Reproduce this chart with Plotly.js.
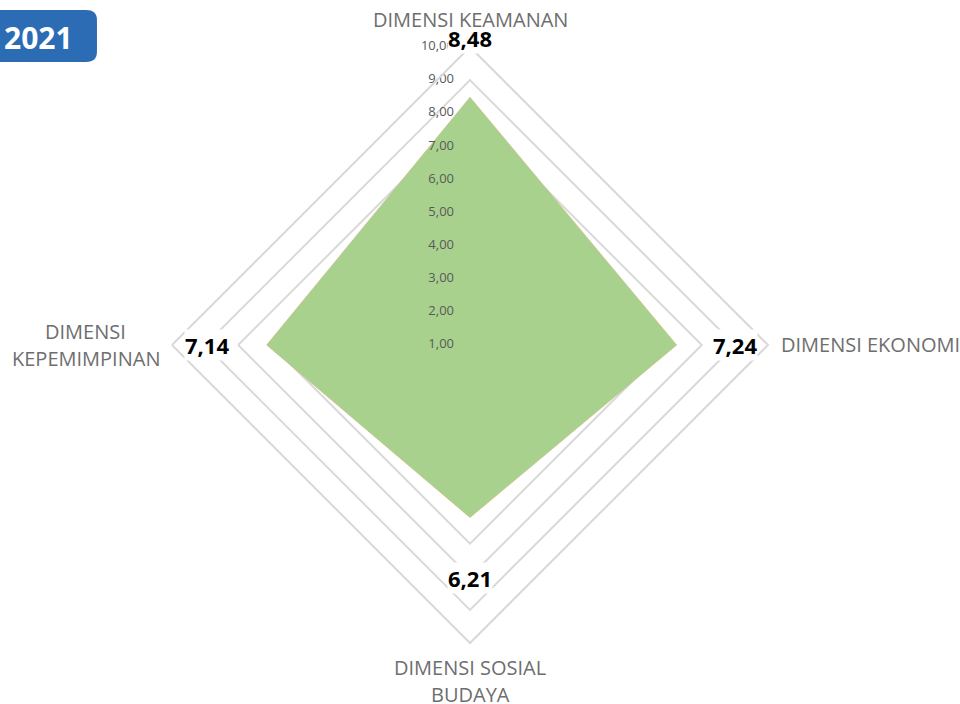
<!DOCTYPE html>
<html>
<head>
<meta charset="utf-8">
<script src="https://cdn.plot.ly/plotly-3.0.1.min.js"></script>
<style>
  html, body { margin: 0; padding: 0; background: #ffffff; }
  #chart { width: 960px; height: 704px; }
</style>
</head>
<body>
<div id="chart"></div>
<script>
// ---- data ----
const categories = ['DIMENSI KEAMANAN', 'DIMENSI EKONOMI', 'DIMENSI SOSIAL BUDAYA', 'DIMENSI KEPEMIMPINAN'];
const categoryLines = [['DIMENSI KEAMANAN'], ['DIMENSI EKONOMI'], ['DIMENSI SOSIAL', 'BUDAYA'], ['DIMENSI', 'KEPEMIMPINAN']];
const values = [8.48, 7.24, 6.21, 7.14];
const valueLabels = ['8,48', '7,24', '6,21', '7,14'];
const tickValues = [1, 2, 3, 4, 5, 6, 7, 8, 9, 10];
const tickLabels = ['1,00', '2,00', '3,00', '4,00', '5,00', '6,00', '7,00', '8,00', '9,00', '10,00'];
const yearLabel = '2021';

// ---- geometry / label placement (style) ----
const W = 960, H = 704;
const CX = 470, CY = 345, RPX = 298;          // polar centre and outer radius in px
const RMIN = 0.999, RMAX = 10;
const dirs = [[0, -1], [1, 0], [0, 1], [-1, 0]]; // screen direction of each category (clockwise from top)
const valueLabelRadius = [10.27, 9.0, 8.04, 8.95];
const categoryLabelRadius = [10.82, 10.33, 11.15, 12.6];
const categoryAnchor = ['center', 'left', 'center', 'center'];
const LINE_GAP = 27;

function toPaper(r, i) {
  const d = (r - RMIN) / (RMAX - RMIN) * RPX;
  return { x: (CX + dirs[i][0] * d) / W, y: 1 - (CY + dirs[i][1] * d) / H };
}

const area = {
  type: 'scatterpolar',
  r: values.concat([values[0]]),
  theta: categories.concat([categories[0]]),
  mode: 'lines',
  fill: 'toself',
  fillcolor: '#a9d18e',
  line: { color: '#c9c08a', width: 0.8 },
  hoverinfo: 'skip',
  showlegend: false
};

const ticks = {
  type: 'scatterpolar',
  r: tickValues,
  theta: tickValues.map(() => categories[0]),
  mode: 'markers+text',
  text: tickLabels,
  textposition: 'middle left',
  marker: { size: 24, opacity: 0 },
  textfont: { family: 'Open Sans, sans-serif', size: 13, color: '#595959' },
  cliponaxis: false,
  hoverinfo: 'skip',
  showlegend: false
};

const annotations = [];
// value labels (white box like the original data labels)
values.forEach((v, i) => {
  const p = toPaper(valueLabelRadius[i], i);
  annotations.push({
    xref: 'paper', yref: 'paper', x: p.x, y: p.y,
    xanchor: 'center', yanchor: 'middle',
    text: valueLabels[i], showarrow: false,
    bgcolor: '#ffffff', borderpad: 0,
    font: { family: 'Open Sans, sans-serif', size: 22, color: '#000000', weight: 'bold' }
  });
});
// category labels
categoryLines.forEach((lines, i) => {
  const p = toPaper(categoryLabelRadius[i], i);
  lines.forEach((line, k) => {
    annotations.push({
      xref: 'paper', yref: 'paper', x: p.x, y: p.y,
      xanchor: categoryAnchor[i], yanchor: 'middle',
      yshift: -(k - (lines.length - 1) / 2) * LINE_GAP,
      text: line, showarrow: false,
      font: { family: 'Open Sans, sans-serif', size: 20, color: '#6e6e6e' }
    });
  });
});
// year badge
annotations.push({
  xref: 'paper', yref: 'paper',
  x: 38 / W, y: 1 - 37 / H,
  xanchor: 'center', yanchor: 'middle',
  text: yearLabel, showarrow: false,
  font: { family: 'Open Sans, sans-serif', size: 30, color: '#ffffff', weight: 'bold' }
});

const layout = {
  width: W,
  height: H,
  margin: { l: 0, r: 0, t: 0, b: 0 },
  paper_bgcolor: '#ffffff',
  showlegend: false,
  polar: {
    domain: { x: [(CX - RPX) / W, (CX + RPX) / W], y: [1 - (CY + RPX) / H, 1 - (CY - RPX) / H] },
    bgcolor: '#ffffff',
    gridshape: 'linear',
    angularaxis: {
      type: 'category',
      categoryarray: categories,
      rotation: 90,
      direction: 'clockwise',
      showticklabels: false,
      ticks: '',
      showgrid: false,
      showline: true,
      linecolor: '#d9d9d9',
      linewidth: 2
    },
    radialaxis: {
      range: [RMIN, RMAX],
      tickvals: tickValues,
      showticklabels: false,
      ticks: '',
      showline: false,
      showgrid: true,
      gridcolor: '#d9d9d9',
      gridwidth: 2,
      angle: 90
    }
  },
  shapes: [{
    type: 'path',
    xref: 'paper', yref: 'paper',
    path: 'M -0.0104,0.9858 L 0.0896,0.9858 Q 0.101,0.9858 0.101,0.9716 L 0.101,0.9261 Q 0.101,0.9119 0.0896,0.9119 L -0.0104,0.9119 Z',
    fillcolor: '#2b6cb5',
    line: { width: 0 }
  }],
  annotations: annotations
};

Plotly.newPlot('chart', [area, ticks], layout, { displayModeBar: false, staticPlot: true });
</script>
</body>
</html>
